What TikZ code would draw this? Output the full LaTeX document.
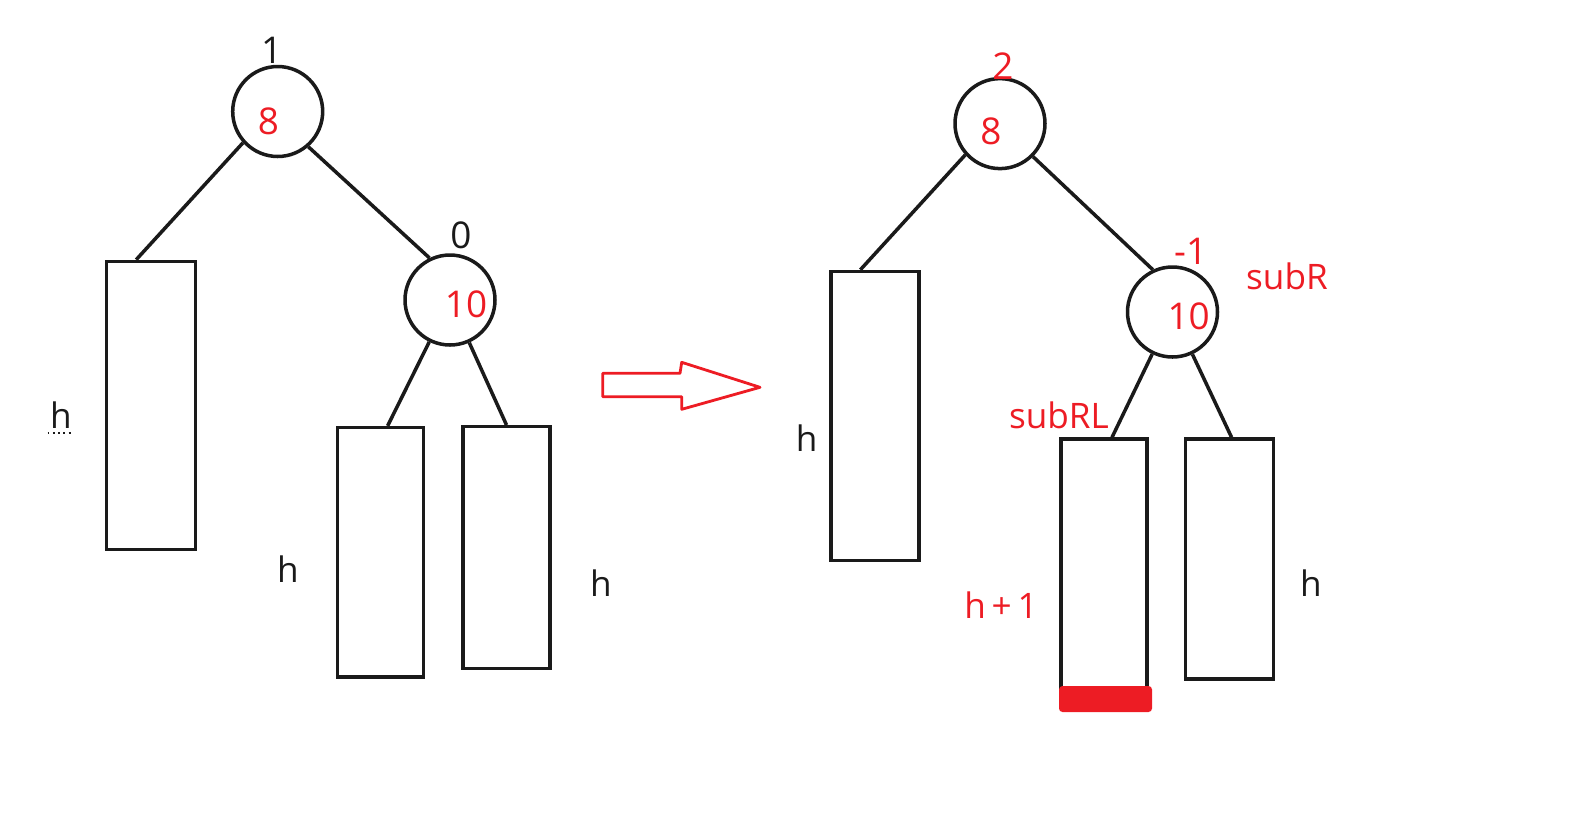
\documentclass[tikz,border=0pt]{standalone}
\usepackage{fontspec}
\setmainfont{Open Sans}
\usepackage{tikz}
\usetikzlibrary{calc}
\definecolor{inkRed}{HTML}{ED1C24}
\definecolor{inkBlack}{HTML}{1A1A1A}
\tikzset{
  treenode/.style={draw=inkBlack, line width=2pt, circle, minimum size=1.8cm, inner sep=0pt},
  subtree/.style={draw=inkBlack, line width=2pt, rectangle, inner sep=0pt},
  edge/.style={draw=inkBlack, line width=2pt},
  val/.style={font=\fontsize{21}{24}\selectfont, text=inkRed, inner sep=0pt},
  bal/.style={font=\fontsize{21}{24}\selectfont, text=#1, inner sep=0pt},
  tag/.style={font=\fontsize{20}{24}\selectfont, text=#1, inner sep=0pt},
}
\begin{document}
\begin{tikzpicture}[x=0.02cm, y=-0.02cm]
\useasboundingbox (0,0) rectangle (1589,823);
% before
\node[treenode] (a8) at (277.7,111.5) {};
\node[treenode] (a10) at (450,300) {};
\node[subtree, minimum width=1.78cm, minimum height=5.76cm] (aL) at (151,405.4) {};
\node[subtree, minimum width=1.72cm, minimum height=4.99cm] (aRL) at (380.5,552.3) {};
\node[subtree, minimum width=1.74cm, minimum height=4.84cm] (aRR) at (506.5,547.7) {};
\node[bal=inkBlack] (b8) at (271.6,50.7) {1};
\node[val] (v8) at (268.5,121.6) {8};
\node[bal=inkBlack] (b10) at (461,235) {0};
\node[val] (v10) at (466,304) {10};
\node[tag=inkBlack] (hL) at (60.8,415.5) {h};
\node[tag=inkBlack] (hRL) at (287.8,569.5) {h};
\node[tag=inkBlack] (hRR) at (601,582.7) {h};
\draw[dotted, line width=1pt, inkBlack] ([shift={(-2,4)}]hL.south west) -- ([shift={(2,4)}]hL.south east);
\draw[edge] (a8.222) -- ($(aL.north west)!0.34!(aL.north east)$);
\draw[edge] (a8.311) -- (a10.116);
\draw[edge] (a10) -- ($(aRL.north west)!0.58!(aRL.north east)$);
\draw[edge] (a10) -- ($(aRR.north west)!0.5!(aRR.north east)$);
% arrow
\draw[inkRed, line width=1.6pt, line join=round]
  (602.7,373.3) -- (680,373.3) -- (681.7,362.3) -- (760,387.3)
  -- (681.7,409.3) -- (681.7,396.7) -- (602.7,396.7) -- cycle;
% after
\node[treenode] (c8) at (1000,123.6) {};
\node[treenode] (c10) at (1172.5,312) {};
\node[subtree, minimum width=1.76cm, minimum height=5.78cm] (cL) at (875,416) {};
\node[subtree, minimum width=1.72cm, minimum height=5.0cm] (cRL) at (1104,564) {};
\node[subtree, minimum width=1.76cm, minimum height=4.8cm] (cRR) at (1229.7,559) {};
\fill[inkRed, rounded corners=2pt] (1059,686) rectangle (1152,712);
\node[bal=inkRed] (d8) at (1003,66) {2};
\node[val] (w8) at (991,131.7) {8};
\node[bal=inkRed] (d10) at (1190.7,251.3) {-1};
\node[val] (w10) at (1188.7,316) {10};
\node[tag=inkRed] (subR) at (1287,276.7) {subR};
\node[tag=inkRed] (subRL) at (1059,415.5) {subRL};
\node[tag=inkRed] (hplus) at (1001,605) {h\,+\,1};
\node[tag=inkBlack] (hcL) at (806.7,437.8) {h};
\node[tag=inkBlack] (hcRR) at (1311,582.7) {h};
\draw[edge] (c8.222) -- ($(cL.north west)!0.34!(cL.north east)$);
\draw[edge] (c8.315) -- (c10.115);
\draw[edge] (c10) -- ($(cRL.north west)!0.59!(cRL.north east)$);
\draw[edge] (c10) -- ($(cRR.north west)!0.52!(cRR.north east)$);
\end{tikzpicture}
\end{document}
